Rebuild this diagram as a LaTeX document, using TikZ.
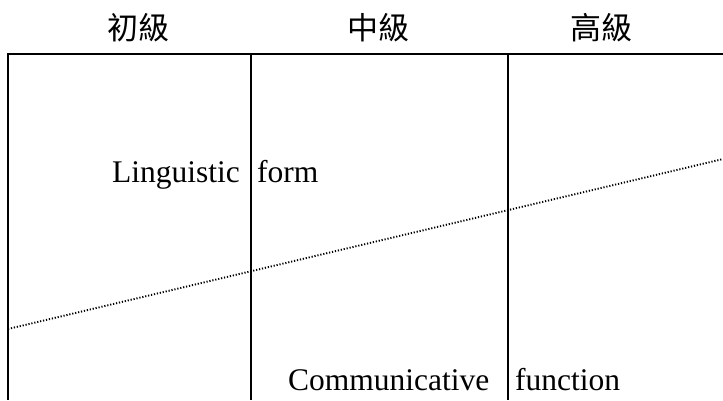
\documentclass[tikz,border=0pt]{standalone}
\usepackage{fontspec}
\setmainfont{Liberation Serif}
\newfontfamily\cjk{Noto Sans CJK TC}
\begin{document}
\begin{tikzpicture}[x=1pt,y=-1pt,
  frame/.style={line width=1.8pt, black},
  divider/.style={line width=1.9pt, dash pattern=on 1.2pt off 1.8pt},
  head/.style={font=\cjk\fontsize{31}{34}\selectfont, inner sep=0pt},
  lab/.style={font=\fontsize{31.5}{35}\selectfont, inner sep=0pt}]
\useasboundingbox (0,0) rectangle (723,400);
% frame
\coordinate (tl) at (8,54);
\coordinate (tr) at (723,54);
\coordinate (c1t) at (251,54);
\coordinate (c2t) at (508,54);
\coordinate (bl) at (8,400);
\coordinate (c1b) at (251,400);
\coordinate (c2b) at (508,400);
\draw[frame] (tr) -- (tl) -- (bl);
\draw[frame] (c1t) -- (c1b);
\draw[frame] (c2t) -- (c2b);
% dotted line
\coordinate (dl) at (8,329);
\coordinate (dr) at (723,159);
\draw[divider] (dl) -- (dr);
% headers
\node[head] (h1) at (138,28) {初級};
\node[head] (h2) at (378,28) {中級};
\node[head] (h3) at (601,28) {高級};
% labels
\node[lab, anchor=base east] (ling) at (240,182) {Linguistic};
\node[lab, anchor=base west] (form) at (257,182) {form};
\node[lab, anchor=base west] (comm) at (288,390) {Communicative};
\node[lab, anchor=base west] (func) at (515,390) {function};
\end{tikzpicture}
\end{document}
